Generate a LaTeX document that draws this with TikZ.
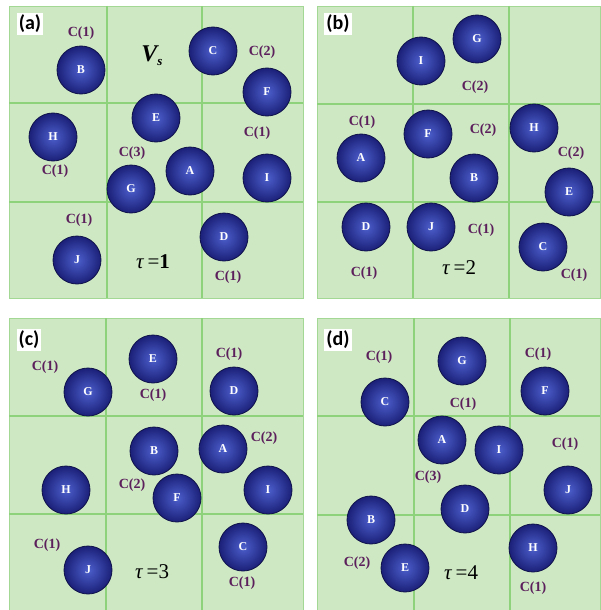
\documentclass[tikz,border=0pt]{standalone}
\usepackage{fontspec}
\setmainfont{Liberation Serif}
\newfontfamily\panfont{Carlito}
\definecolor{cellgreen}{HTML}{CDE8C3}
\definecolor{gridgreen}{HTML}{8FD27C}
\definecolor{edgegreen}{HTML}{A2D894}
\definecolor{ballin}{HTML}{4C5FCC}
\definecolor{ballout}{HTML}{1B2078}
\definecolor{ballrim}{HTML}{10124A}
\definecolor{labpurple}{HTML}{5C1F5C}
\tikzset{
  ballnode/.style={circle, minimum size=48pt, inner sep=0pt, draw=ballrim, line width=0.8pt,
    inner color=ballin, outer color=ballout, text=white, font=\bfseries\fontsize{12}{12}\selectfont},
  clabel/.style={text=labpurple, font=\bfseries\fontsize{14}{14}\selectfont, inner sep=0pt},
  taulabel/.style={font=\fontsize{21}{21}\selectfont, inner sep=0pt},
  panlabel/.style={fill=white, font=\panfont\bfseries\fontsize{20}{20}\selectfont, inner sep=2pt},
  gridline/.style={draw=gridgreen, line width=1.1pt}
}
\newcommand{\panelgrid}[6]{%
  \fill[cellgreen] (#1,#2) rectangle (#3,#4);
  \draw[edgegreen, line width=0.8pt] (#1,#2) rectangle (#3,#4);
  \draw[gridline] (#5,#2) -- (#5,#4);
  \draw[gridline] (#6,#2) -- (#6,#4);
}
\newcommand{\panelrows}[4]{%
  \draw[gridline] (#1,#3) -- (#2,#3);
  \draw[gridline] (#1,#4) -- (#2,#4);
}
\begin{document}
\begin{tikzpicture}[x=1pt,y=-1pt]
\useasboundingbox (0,0) rectangle (600,610);
\fill[white] (0,0) rectangle (600,610);
% panel a
\panelgrid{9}{6}{303}{298}{107}{202}
\panelrows{9}{303}{103}{202}
% panel b
\panelgrid{317}{6}{600}{298}{413}{509}
\panelrows{317}{600}{104}{202}
% panel c
\panelgrid{9}{318}{303}{610}{106}{202}
\panelrows{9}{303}{416}{514}
% panel d
\panelgrid{317}{318}{600}{610}{414}{510}
\panelrows{317}{600}{416}{515}

% ===== panel (a)
\node[panlabel] (pa) at (30,24) {(a)};
\node[ballnode] (aB) at (81,70) {B};
\node[ballnode] (aC) at (213,51) {C};
\node[ballnode] (aF) at (267,92) {F};
\node[ballnode] (aE) at (156,118) {E};
\node[ballnode] (aH) at (53,137) {H};
\node[ballnode] (aA) at (190,171) {A};
\node[ballnode] (aG) at (131,189) {G};
\node[ballnode] (aI) at (267,178) {I};
\node[ballnode] (aD) at (224,237) {D};
\node[ballnode] (aJ) at (77,260) {J};
\node[clabel] (al1) at (81,33) {C(1)};
\node[font=\bfseries\itshape\fontsize{24}{24}\selectfont, inner sep=0pt] (aV) at (152,56) {V\raisebox{-4pt}{\fontsize{13}{13}\selectfont s}};
\node[clabel] (al2) at (262,52) {C(2)};
\node[clabel] (al3) at (257,133) {C(1)};
\node[clabel] (al4) at (55,171) {C(1)};
\node[clabel] (al5) at (132,153) {C(3)};
\node[clabel] (al6) at (79,220) {C(1)};
\node[taulabel] (at) at (153,262) {\textit{τ}\,=\textbf{1}};
\node[clabel] (al7) at (228,277) {C(1)};

% ===== panel (b)
\node[panlabel] (pb) at (338,24) {(b)};
\node[ballnode] (bG) at (477,39) {G};
\node[ballnode] (bI) at (421,61) {I};
\node[ballnode] (bF) at (428,134) {F};
\node[ballnode] (bH) at (534,128) {H};
\node[ballnode] (bA) at (361,158) {A};
\node[ballnode] (bB) at (474,178) {B};
\node[ballnode] (bE) at (569,192) {E};
\node[ballnode] (bD) at (366,227) {D};
\node[ballnode] (bJ) at (431,227) {J};
\node[ballnode] (bC) at (543,247) {C};
\node[clabel] (bl1) at (475,87) {C(2)};
\node[clabel] (bl2) at (362,122) {C(1)};
\node[clabel] (bl3) at (483,130) {C(2)};
\node[clabel] (bl4) at (571,153) {C(2)};
\node[clabel] (bl5) at (481,230) {C(1)};
\node[clabel] (bl6) at (364,273) {C(1)};
\node[clabel] (bl7) at (574,275) {C(1)};
\node[taulabel] (bt) at (459,268) {\textit{τ}\,=2};

% ===== panel (c)
\node[panlabel] (pc) at (29,340) {(c)};
\node[ballnode] (cE) at (153,359) {E};
\node[ballnode] (cG) at (88,392) {G};
\node[ballnode] (cD) at (234,391) {D};
\node[ballnode] (cB) at (154,451) {B};
\node[ballnode] (cA) at (223,449) {A};
\node[ballnode] (cH) at (66,490) {H};
\node[ballnode] (cF) at (177,498) {F};
\node[ballnode] (cI) at (268,490) {I};
\node[ballnode] (cJ) at (88,570) {J};
\node[ballnode] (cC) at (243,547) {C};
\node[clabel] (cl1) at (45,367) {C(1)};
\node[clabel] (cl2) at (229,354) {C(1)};
\node[clabel] (cl3) at (153,395) {C(1)};
\node[clabel] (cl4) at (264,438) {C(2)};
\node[clabel] (cl5) at (132,485) {C(2)};
\node[clabel] (cl6) at (47,545) {C(1)};
\node[clabel] (cl7) at (242,583) {C(1)};
\node[taulabel] (ct) at (152,572) {\textit{τ}\,=3};

% ===== panel (d)
\node[panlabel] (pd) at (338,340) {(d)};
\node[ballnode] (dG) at (462,361) {G};
\node[ballnode] (dF) at (545,391) {F};
\node[ballnode] (dC) at (385,402) {C};
\node[ballnode] (dA) at (442,440) {A};
\node[ballnode] (dI) at (499,450) {I};
\node[ballnode] (dJ) at (568,490) {J};
\node[ballnode] (dD) at (465,509) {D};
\node[ballnode] (dB) at (371,520) {B};
\node[ballnode] (dH) at (533,548) {H};
\node[ballnode] (dE) at (405,568) {E};
\node[clabel] (dl1) at (379,357) {C(1)};
\node[clabel] (dl2) at (538,354) {C(1)};
\node[clabel] (dl3) at (463,404) {C(1)};
\node[clabel] (dl4) at (565,444) {C(1)};
\node[clabel] (dl5) at (428,477) {C(3)};
\node[clabel] (dl6) at (357,563) {C(2)};
\node[clabel] (dl7) at (533,588) {C(1)};
\node[taulabel] (dt) at (461,573) {\textit{τ}\,=4};
\end{tikzpicture}
\end{document}
